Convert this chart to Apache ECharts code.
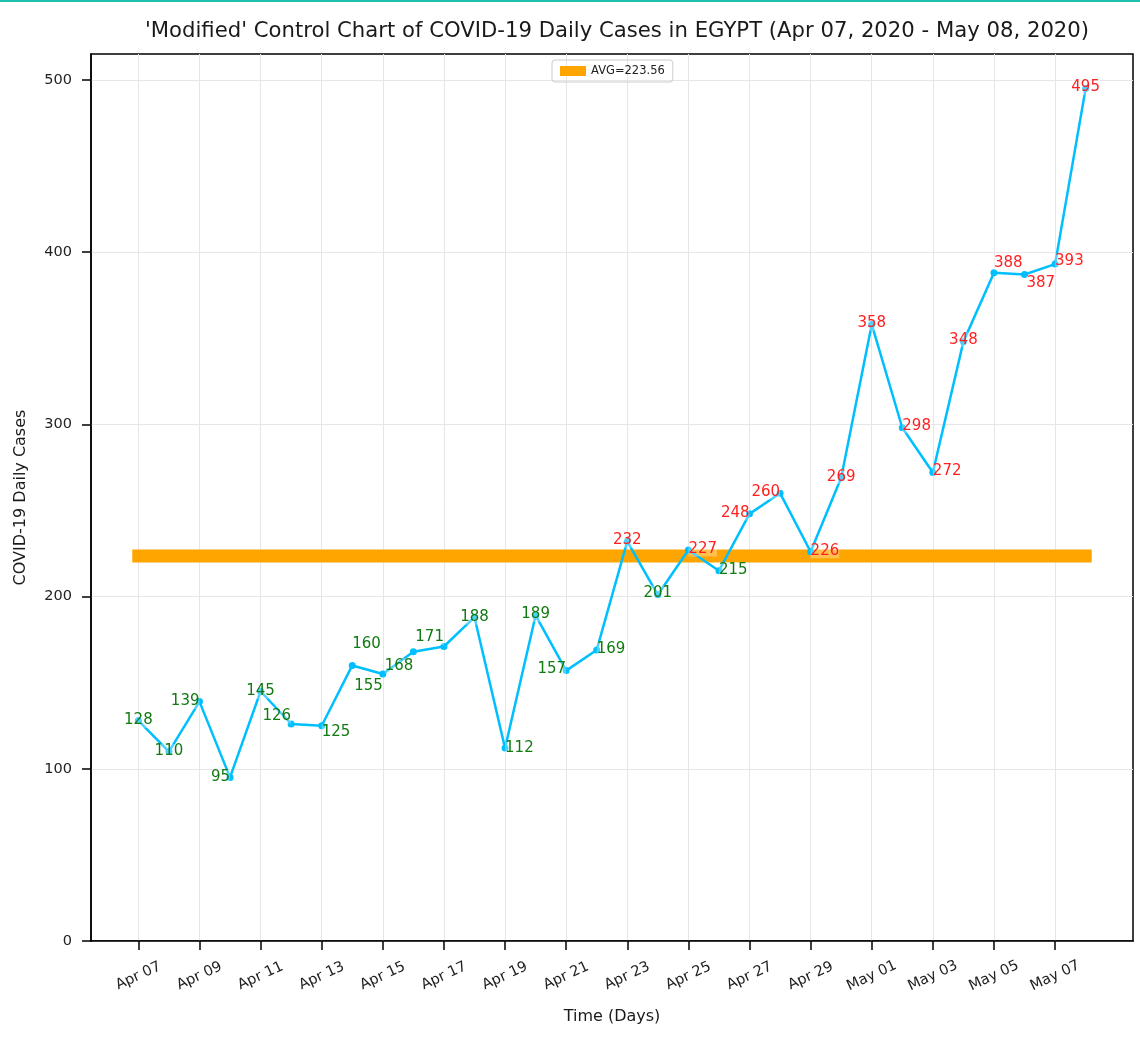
<!DOCTYPE html>
<html>
<head>
<meta charset="utf-8">
<script src="https://cdn.jsdelivr.net/npm/echarts@6/dist/echarts.min.js"></script>
<style>
html,body{margin:0;padding:0;background:#fff}
#main{width:1140px;height:1040px}
</style>
</head>
<body>
<div id="main"></div>
<script>
// daily data, Apr 07 - May 08 2020
var days = ['Apr 07','Apr 08','Apr 09','Apr 10','Apr 11','Apr 12','Apr 13','Apr 14','Apr 15','Apr 16',
	'Apr 17','Apr 18','Apr 19','Apr 20','Apr 21','Apr 22','Apr 23','Apr 24','Apr 25','Apr 26',
	'Apr 27','Apr 28','Apr 29','Apr 30','May 01','May 02','May 03','May 04','May 05','May 06',
	'May 07','May 08'];
var cases = [128,110,139,95,145,126,125,160,155,168,171,188,112,189,157,169,
	232,201,227,215,248,260,226,269,358,298,272,348,388,387,393,495];
var avgValue = 223.56;
var avgSpan = [-0.2, 31.2];
var xTicks = [0,2,4,6,8,10,12,14,16,18,20,22,24,26,28,30];
var yTicks = [0,100,200,300,400,500];

// where each value label sits: c = on the point, l = left of it, r = right of it, then dx, dy
var labelPlace = [
	['c',0,0],['c',0,0],['l',0,0],['l',0,0],['c',0,0],['l',0,-8],['r',0,6],['r',0,-21],
	['l',0,12],['l',0,14],['l',0,-9],['c',0,0],['r',0,0],['c',0,-1],['l',0,-1],['r',0,-1],
	['c',0,-1],['c',0,-2],['r',0,-1],['r',0,-1],['l',0,-1],['l',0,-1],['r',0,-1],['c',0,-1],
	['c',0,-1],['r',0,-2],['r',0,-1],['c',0,-2],['r',0,-10],['r',2,9],['r',0,-3],['c',0,-1]
];

var font = 'DejaVu Sans';
var symSize = 7;
var chart = echarts.init(document.getElementById('main'));

var points = cases.map(function(v, i) {
	var p = labelPlace[i];
	var align = p[0] == 'l' ? 'right' : (p[0] == 'r' ? 'left' : 'center');
	return {
		value: [i, v],
		label: {
			position: [symSize / 2 + p[1], symSize / 2 + p[2]],
			align: align,
			verticalAlign: 'middle',
			color: v > avgValue ? '#ff1f1f' : '#117a11'
		}
	};
});

var option = {
	animation: false,
	backgroundColor: '#fff',
	textStyle: { fontFamily: font },
	graphic: [{
		type: 'rect',
		shape: { x: 0, y: 0, width: 1140, height: 2 },
		style: { fill: '#1fbfae' }
	}],
	title: {
		text: "'Modified' Control Chart of COVID-19 Daily Cases in EGYPT (Apr 07, 2020 - May 08, 2020)",
		left: 612,
		textAlign: 'center',
		top: 16,
		textStyle: { fontFamily: font, fontSize: 21.2, fontWeight: 'normal', color: '#1a1a1a' }
	},
	legend: {
		data: [{ name: 'AVG=223.56', icon: 'rect' }],
		left: 552,
		top: 60,
		padding: [5, 8],
		itemWidth: 26,
		itemHeight: 10,
		borderColor: '#cccccc',
		borderWidth: 1,
		borderRadius: 3,
		textStyle: { fontFamily: font, fontSize: 11.5, color: '#222' }
	},
	grid: {
		left: 91, right: 7, top: 54, bottom: 99,
		show: true,
		borderColor: '#000',
		borderWidth: 1.5,
		backgroundColor: 'transparent'
	},
	xAxis: {
		type: 'value',
		min: -1.55,
		max: 32.55,
		name: 'Time (Days)',
		nameLocation: 'middle',
		nameGap: 68,
		nameTextStyle: { fontFamily: font, fontSize: 16, color: '#1a1a1a' },
		axisLine: { show: true, onZero: false, lineStyle: { color: '#000', width: 1.5 } },
		axisTick: { show: true, inside: false, length: 9, lineStyle: { color: '#000', width: 1.5 }, customValues: xTicks },
		axisLabel: {
			customValues: xTicks,
			rotate: 25,
			align: 'center',
			verticalAlign: 'middle',
			margin: 35,
			fontFamily: font,
			fontSize: 14.5,
			color: '#222',
			formatter: function(v) { return days[Math.round(v)]; }
		},
		splitLine: { show: true, lineStyle: { color: '#e6e6e6', width: 1 } }
	},
	yAxis: {
		type: 'value',
		min: 0,
		max: 515,
		interval: 100,
		name: 'COVID-19 Daily Cases',
		nameLocation: 'middle',
		nameGap: 62,
		nameTextStyle: { fontFamily: font, fontSize: 16, color: '#1a1a1a' },
		axisLine: { show: true, onZero: false, lineStyle: { color: '#000', width: 1.5 } },
		axisTick: { show: true, inside: false, length: 9, lineStyle: { color: '#000', width: 1.5 }, customValues: yTicks },
		axisLabel: { customValues: yTicks, margin: 19, fontFamily: font, fontSize: 14.5, color: '#222' },
		splitLine: { show: true, lineStyle: { color: '#e6e6e6', width: 1 } }
	},
	series: [
		{
			name: 'AVG=223.56',
			type: 'line',
			z: 1,
			symbol: 'none',
			silent: true,
			itemStyle: { color: '#ffa500' },
			lineStyle: { color: '#ffa500', width: 13 },
			data: [[avgSpan[0], avgValue], [avgSpan[1], avgValue]]
		},
		{
			name: 'Daily Cases',
			type: 'line',
			z: 3,
			symbol: 'circle',
			symbolSize: symSize,
			itemStyle: { color: '#00bfff' },
			lineStyle: { color: '#00bfff', width: 2.5 },
			label: {
				show: true,
				fontFamily: font,
				fontSize: 15,
				backgroundColor: 'rgba(255,255,255,0.3)',
				formatter: function(p) { return p.value[1]; }
			},
			data: points
		}
	]
};
chart.setOption(option);
</script>
</body>
</html>
